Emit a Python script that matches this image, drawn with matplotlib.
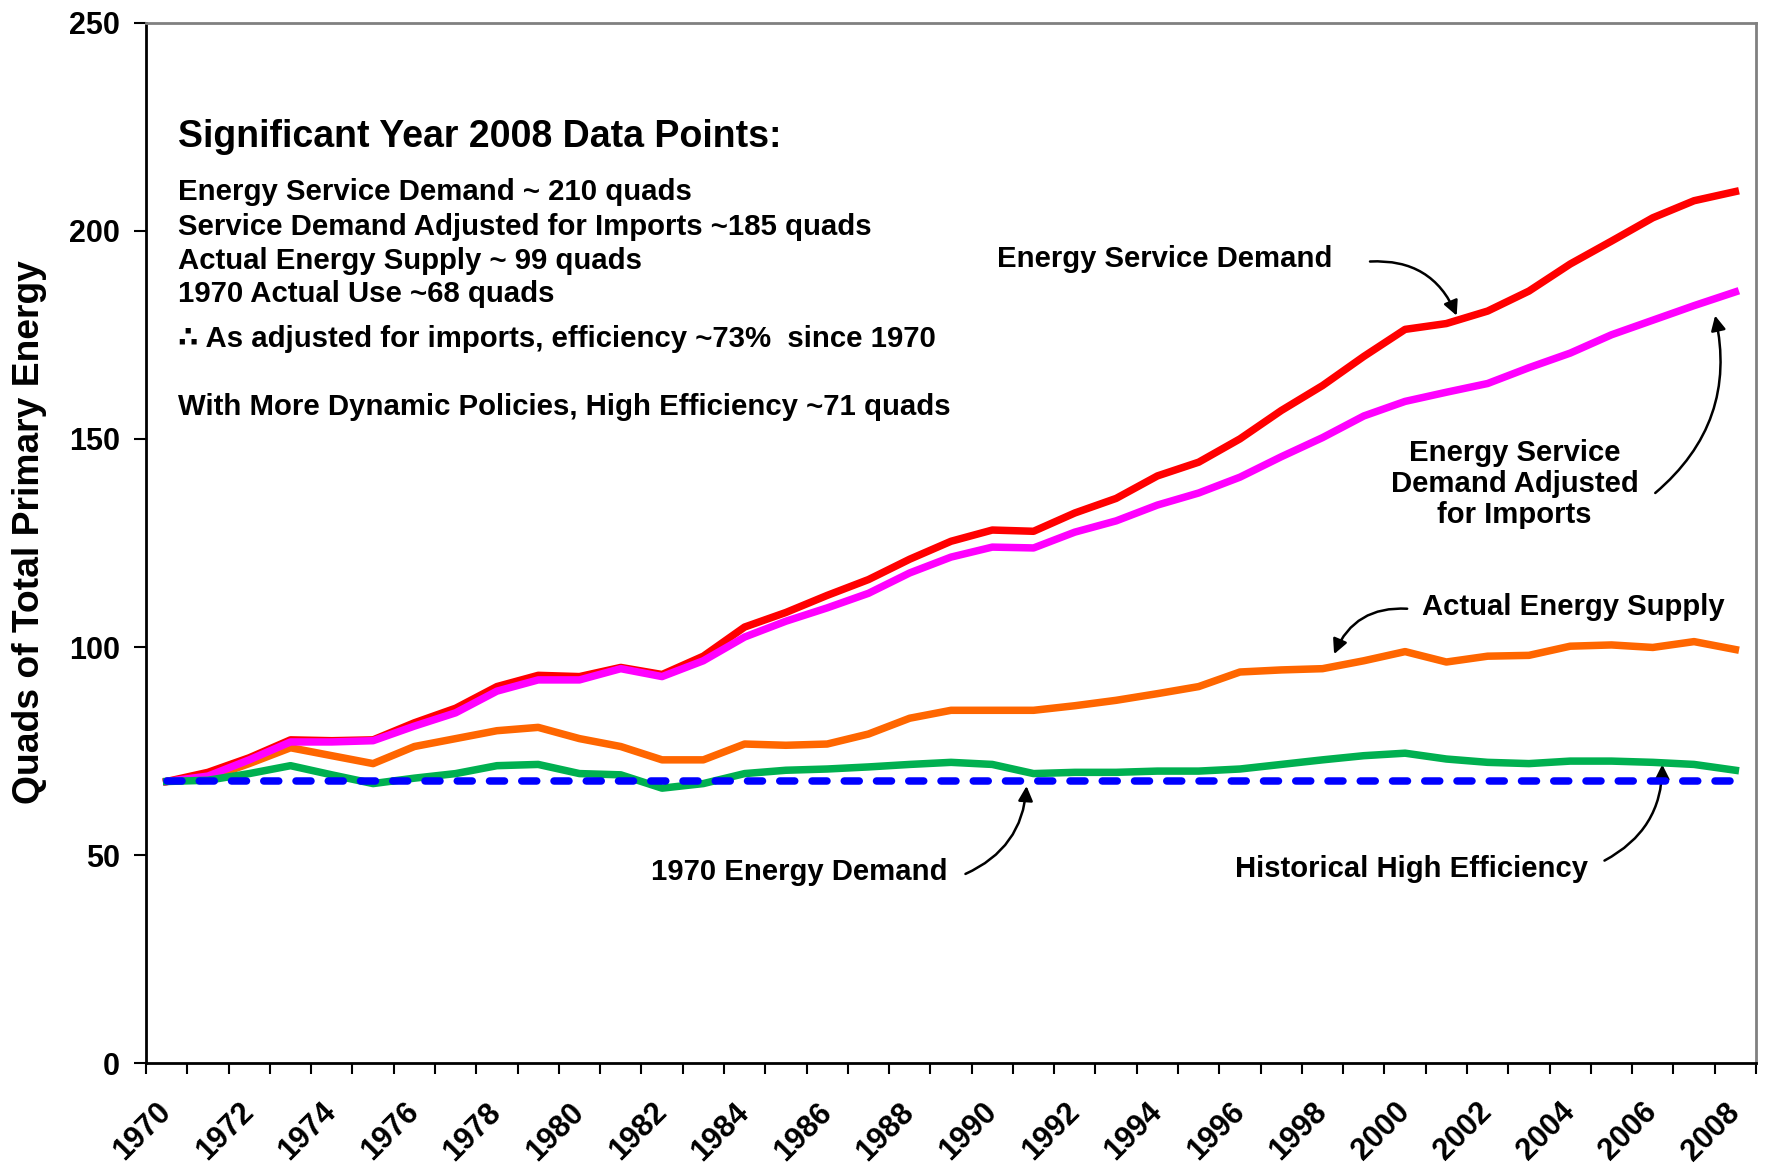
import matplotlib
matplotlib.use("Agg")
import matplotlib.pyplot as plt

plt.rcParams['font.family'] = ['Liberation Sans', 'DejaVu Sans']
plt.rcParams['font.weight'] = 'bold'

years = list(range(1970, 2009))

service_demand = [67.7, 69.9, 73.4, 77.7, 77.5, 77.7, 81.8, 85.3, 90.5, 93.2,
                  92.9, 95.1, 93.4, 97.8, 104.8, 108.3, 112.4, 116.2, 121.1, 125.4,
                  128.1, 127.8, 132.2, 135.7, 141.1, 144.4, 150.0, 156.8, 162.8, 169.8,
                  176.3, 177.7, 180.7, 185.5, 192.0, 197.5, 203.1, 207.2, 209.4]

adjusted_demand = [67.7, 69.0, 72.9, 77.2, 77.2, 77.5, 81.0, 84.2, 89.4, 92.1,
                   92.1, 94.8, 92.9, 96.7, 102.4, 106.2, 109.4, 112.9, 117.8, 121.6,
                   124.0, 123.8, 127.6, 130.3, 134.1, 137.0, 140.8, 145.7, 150.3, 155.5,
                   159.0, 161.2, 163.3, 167.1, 170.6, 175.0, 178.5, 182.0, 185.3]

actual_supply = [67.7, 68.5, 72.0, 75.8, 73.9, 72.0, 76.1, 78.0, 79.9, 80.7,
                 78.0, 76.1, 72.9, 72.9, 76.7, 76.4, 76.7, 79.1, 82.9, 84.8,
                 84.8, 84.8, 85.9, 87.2, 88.8, 90.5, 94.0, 94.5, 94.8, 96.7,
                 98.9, 96.4, 97.8, 98.0, 100.2, 100.5, 99.9, 101.3, 99.4]

high_efficiency = [67.7, 68.0, 69.6, 71.5, 69.3, 67.2, 68.5, 69.6, 71.5, 71.8,
                   69.6, 69.3, 66.1, 67.2, 69.6, 70.4, 70.7, 71.2, 71.8, 72.3,
                   71.8, 69.6, 69.9, 69.9, 70.2, 70.2, 70.7, 71.8, 72.9, 73.9,
                   74.5, 73.1, 72.3, 72.0, 72.6, 72.6, 72.3, 71.8, 70.4]

demand_1970 = [67.8, 67.8, 67.8, 67.8, 67.8, 67.8, 67.8, 67.8, 67.8, 67.8,
               67.8, 67.8, 67.8, 67.8, 67.8, 67.8, 67.8, 67.8, 67.8, 67.8,
               67.8, 67.8, 67.8, 67.8, 67.8, 67.8, 67.8, 67.8, 67.8, 67.8,
               67.8, 67.8, 67.8, 67.8, 67.8, 67.8, 67.8, 67.8, 67.8]

y_ticks = [0, 50, 100, 150, 200, 250]

info_title = "Significant Year 2008 Data Points:"
info_lines = ["Energy Service Demand ~ 210 quads",
              "Service Demand Adjusted for Imports ~185 quads",
              "Actual Energy Supply ~ 99 quads",
              "1970 Actual Use ~68 quads",
              "\u2234 As adjusted for imports, efficiency ~73%  since 1970",
              "With More Dynamic Policies, High Efficiency ~71 quads"]

fig = plt.figure(figsize=(17.68, 11.68), dpi=100)
ax = fig.add_axes([0.0826, 0.0896, 0.9106, 0.8911])

x = list(range(len(years)))
lw = 5.4
ax.plot(x, service_demand, color='#FF0000', lw=lw, solid_joinstyle='round', zorder=3)
ax.plot(x, actual_supply, color='#FF6600', lw=lw, solid_joinstyle='round', zorder=4)
ax.plot(x, adjusted_demand, color='#FF00FF', lw=lw, solid_joinstyle='round', zorder=5)
ax.plot(x, high_efficiency, color='#00B050', lw=lw, solid_joinstyle='round', zorder=6)
ax.plot(x, demand_1970, color='#0000FF', lw=lw, dashes=(2.0, 2.3),
        dash_capstyle='round', zorder=7)

ax.set_xlim(-0.5, len(years) - 0.5)
ax.set_ylim(0, 250)

for s in ['left', 'bottom']:
    ax.spines[s].set_color('black')
    ax.spines[s].set_linewidth(2)
for s in ['top', 'right']:
    ax.spines[s].set_color('#808080')
    ax.spines[s].set_linewidth(2)

ax.set_yticks(y_ticks)
ax.set_yticklabels([str(v) for v in y_ticks], fontsize=22, fontweight='bold')
ax.tick_params(axis='y', direction='out', length=9, width=1.5, pad=10)

ax.set_xticks([i - 0.5 for i in range(len(years) + 1)])
ax.set_xticklabels([])
ax.tick_params(axis='x', which='major', direction='out', length=8, width=1.5)
lab_pos = [i for i, y in enumerate(years) if y % 2 == 0]
ax.set_xticks(lab_pos, minor=True)
ax.set_xticklabels([str(years[i]) for i in lab_pos], minor=True, rotation=45,
                   ha='right', va='center', rotation_mode='anchor',
                   fontsize=22, fontweight='bold')
ax.tick_params(axis='x', which='minor', length=0, pad=32)

fig.text(0.0165, 0.5445, "Quads of Total Primary Energy", rotation=90,
         ha='center', va='center', fontsize=26.8, fontweight='bold')

ax.text(0.275, 222.6, info_title, fontsize=27, fontweight='bold', ha='left', va='center')
info_y = [209.2, 200.9, 192.8, 184.9, 174.1, 157.7]
for t, yy in zip(info_lines, info_y):
    ax.text(0.275, yy, t, fontsize=21.2, fontweight='bold', ha='left', va='center')

ap = dict(arrowstyle='-|>', color='black', lw=1.8, mutation_scale=22,
          shrinkA=0, shrinkB=0)

ax.text(24.18, 193.1, "Energy Service Demand", fontsize=21.1, fontweight='bold',
        ha='center', va='center')
ax.annotate("", xy=(31.25, 179.6), xytext=(29.15, 192.6),
            arrowprops=dict(ap, connectionstyle='arc3,rad=-0.35'))

ax.text(32.65, 139.2, "Energy Service\nDemand Adjusted\nfor Imports", fontsize=21.1,
        fontweight='bold', ha='center', va='center', linespacing=1.15)
ax.annotate("", xy=(37.51, 179.6), xytext=(36.06, 137.0),
            arrowprops=dict(ap, connectionstyle='arc3,rad=0.3'))

ax.text(34.07, 109.7, "Actual Energy Supply", fontsize=21.1, fontweight='bold',
        ha='center', va='center')
ax.annotate("", xy=(28.28, 98.3), xytext=(30.05, 109.2),
            arrowprops=dict(ap, connectionstyle='arc3,rad=0.35'))

ax.text(15.33, 46.0, "1970 Energy Demand", fontsize=21.1, fontweight='bold',
        ha='center', va='center')
ax.annotate("", xy=(20.83, 66.6), xytext=(19.35, 45.5),
            arrowprops=dict(ap, connectionstyle='arc3,rad=0.3'))

ax.text(30.16, 46.8, "Historical High Efficiency", fontsize=21.1, fontweight='bold',
        ha='center', va='center')
ax.annotate("", xy=(36.23, 71.8), xytext=(34.83, 48.7),
            arrowprops=dict(ap, connectionstyle='arc3,rad=0.3'))

fig.savefig("out.png", dpi=100)
